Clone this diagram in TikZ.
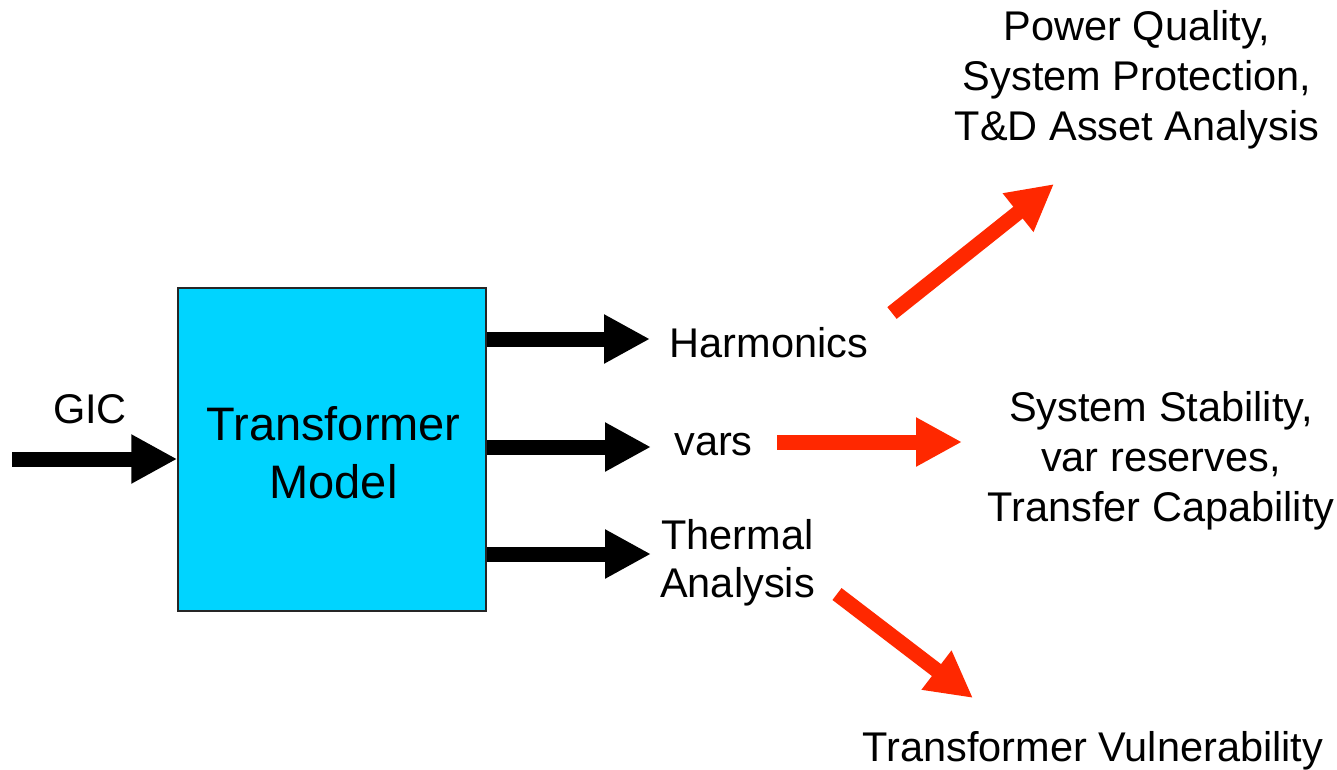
\documentclass[tikz,border=0pt]{standalone}
\usepackage{fontspec}
\setmainfont{Liberation Sans}
\usetikzlibrary{arrows.meta}
\definecolor{boxcyan}{RGB}{0,212,255}
\definecolor{arrred}{RGB}{255,40,0}
\begin{document}
\begin{tikzpicture}[x=1pt,y=-1pt,
  lbl/.style={inner sep=0pt, anchor=base, align=center, font=\fontsize{41.5}{50}\selectfont},
  boxlbl/.style={inner sep=0pt, anchor=base, align=center, font=\fontsize{47}{58}\selectfont},
  fat/.style={line width=15pt, -{Triangle[length=46pt,width=46pt]}},
  blkarrow/.style={fat, draw=black},
  redarrow/.style={fat, draw=arrred},
  modelbox/.style={draw=black!85, line width=1.5pt, fill=boxcyan, minimum width=308pt, minimum height=323pt, inner sep=0pt}
]
\useasboundingbox (0,0) rectangle (1337,769);

% main block
\node[modelbox] (box) at (332,449.5) {};
\node[boxlbl] (boxtext) at (333.5,498) {Transformer\\Model};

% labels (base anchor = baseline of the last line)
\node[lbl] (gic) at (90,423) {GIC};
\node[lbl] (harm) at (769,357) {Harmonics};
\node[lbl] (vars) at (713.5,455) {vars};
\node[lbl, font=\fontsize{41.5}{48}\selectfont] (therm) at (737.5,597) {Thermal\\Analysis};
\node[lbl] (pq) at (1137,140) {Power Quality,\\System Protection,\\T\&D Asset Analysis};
\node[lbl] (ss) at (1161,521) {System Stability,\\var reserves,\\Transfer Capability};
\node[lbl] (tv) at (1093,761) {Transformer Vulnerability};

% coordinates for connector ends
\coordinate (gicin) at (12,459);
\coordinate (harmtip) at (650,339);
\coordinate (varstip) at (651,447);
\coordinate (thermtip) at (651,554);
\coordinate (r1tail) at (892,313);
\coordinate (r1tip) at (1054,184);
\coordinate (r2tail) at (777,442);
\coordinate (r2tip) at (962,442);
\coordinate (r3tail) at (837,594);
\coordinate (r3tip) at (973,698);

% black arrows
\draw[blkarrow] (gicin) -- (box.west |- gicin);
\draw[blkarrow] (box.east |- harmtip) -- (harmtip);
\draw[blkarrow] (box.east |- varstip) -- (varstip);
\draw[blkarrow] (box.east |- thermtip) -- (thermtip);

% red arrows
\draw[redarrow] (r1tail) -- (r1tip);
\draw[redarrow] (r2tail) -- (r2tip);
\draw[redarrow] (r3tail) -- (r3tip);
\end{tikzpicture}
\end{document}
